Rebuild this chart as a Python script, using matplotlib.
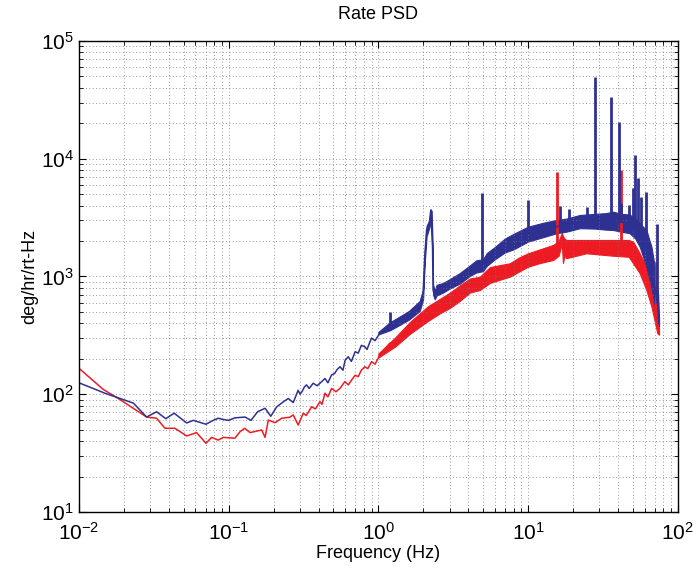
import matplotlib
matplotlib.use("Agg")
import matplotlib.pyplot as plt
import numpy as np
from matplotlib.ticker import LogLocator, LogFormatterMathtext, NullFormatter

plt.rcParams['font.family'] = ['Liberation Sans', 'DejaVu Sans']
plt.rcParams['mathtext.default'] = 'regular'
plt.rcParams['axes.unicode_minus'] = False

# ---- blue trace ----
blue_f = [0.01, 0.0149, 0.0231, 0.0283, 0.033, 0.038, 0.0432, 0.0524, 0.058, 0.0705,
          0.0789, 0.0851, 0.092, 0.1, 0.11, 0.1285, 0.141, 0.156, 0.175, 0.191, 0.209,
          0.231, 0.25, 0.27, 0.291, 0.30, 0.31, 0.32, 0.331, 0.345, 0.367, 0.39, 0.418,
          0.44, 0.46, 0.487, 0.51, 0.53, 0.554, 0.58, 0.60, 0.629, 0.66, 0.70, 0.733,
          0.77, 0.812, 0.84, 0.871, 0.90, 0.95, 1.023, 1.1, 1.19, 1.25, 1.39, 1.5, 1.62,
          1.75, 1.89, 1.99, 2.04, 2.10, 2.19, 2.24, 2.30, 2.32, 2.38, 2.58, 3.0, 4.08,
          4.76, 5.14, 5.55, 7.55, 10.0, 15.5, 22.2, 27.9, 37.0, 47.7, 55.7, 61.7, 66.7,
          70.2, 73.9, 75.0]
blue_v = [125, 102, 84, 64, 71, 62, 69, 57, 60, 55.6,
          60, 62.5, 61, 60, 63, 64, 60, 71, 76, 65, 78,
          86, 92, 85, 108, 100, 106, 115, 120, 112, 124, 118, 128,
          136, 125, 146, 150, 162, 171, 160, 195, 208, 190, 230, 223,
          260, 253, 240, 271, 300, 285, 330, 350, 400, 370, 428, 440, 471,
          500, 573, 719, 1472, 2483, 2832, 3673, 1792, 767, 674, 798, 875, 1135,
          1300, 1336, 1550, 2000, 2280, 2650, 2920, 3000, 2970, 2800, 2250, 1730, 1010,
          820, 550, 400]

blue_band_f = [1.0, 1.2, 1.4, 1.6, 1.89, 1.99, 2.04, 2.10, 2.19, 2.24, 2.27, 2.30,
               2.32, 2.38, 2.45, 2.7, 3.0, 3.5, 4.08, 4.5, 5.0, 5.3, 6.0,
               7.0, 8.0, 10.0, 12.5, 15.5, 18.0, 22.2, 28.0, 33.0, 37.0, 42.0, 47.7,
               52.0, 55.7, 61.7, 66.7, 70.2, 73.9, 75.0]
blue_lo = [322, 350, 390, 430, 510, 640, 1300, 2200, 2600, 3000, 2400, 1500,
           700, 640, 690, 730, 790, 870, 1010, 1080, 1110, 1230, 1400,
           1600, 1700, 1980, 2150, 2330, 2400, 2570, 2550, 2500, 2480, 2400, 2330,
           2100, 1790, 1210, 820, 555, 420, 380]
blue_hi = [338, 410, 460, 510, 620, 780, 1600, 2700, 3000, 3700, 3600, 2000,
           850, 760, 850, 880, 950, 1070, 1240, 1370, 1400, 1580, 1780,
           2100, 2300, 2650, 2850, 3020, 3100, 3330, 3400, 3450, 3550, 3400, 3360,
           3100, 2830, 2480, 1790, 1210, 700, 450]

blue_spike_f = [1.2, 4.89, 10.0, 16.3, 18.7, 24.9, 27.9, 35.7, 40.4, 42.0, 47.3,
                50.3, 52.1, 54.3, 57.1, 61.7, 73.1]
blue_spike_v = [500, 5080, 4460, 3990, 3740, 3920, 49000, 33300, 20700, 4200, 4070,
                5610, 10800, 6800, 4760, 5250, 2790]

# ---- red trace ----
red_f = [0.01, 0.0145, 0.0183, 0.0283, 0.033, 0.0375, 0.0437, 0.0524, 0.061, 0.0705,
         0.0769, 0.0851, 0.092, 0.11, 0.119, 0.128, 0.139, 0.166, 0.175, 0.184, 0.204,
         0.226, 0.256, 0.27, 0.291, 0.315, 0.33, 0.358, 0.38, 0.407, 0.42, 0.44, 0.46,
         0.487, 0.52, 0.554, 0.597, 0.63, 0.662, 0.70, 0.733, 0.77, 0.812, 0.85, 0.90,
         0.95, 1.023, 1.1, 1.19, 1.3, 1.45, 1.62, 2.15, 3.0, 4.08, 5.55, 7.55, 10.0,
         14.7, 15.6, 17.0, 18.0, 24.5, 37.0, 47.0, 50.3, 55.7, 61.7, 66.7, 71.9, 75.0]
red_v = [166, 110, 92, 64, 62.5, 51.4, 51.4, 44.2, 47.2, 38.3,
         43, 40.8, 43, 42.3, 48, 51.4, 47.2, 49.7, 43, 60.4, 57.3,
         62.5, 63.8, 66.7, 54.8, 68.9, 66, 78.3, 75, 86.5, 82, 102, 95,
         112, 105, 112, 128, 120, 132, 145, 141, 160, 171, 165, 189,
         180, 215, 240, 271, 280, 330, 375, 487, 632, 847, 1031, 1130, 1380,
         1600, 1600, 2100, 1700, 1790, 1750, 1700, 1600, 1290, 960, 710, 450, 340]

red_band_f = [1.0, 1.3, 1.62, 2.15, 2.6, 3.0, 3.5, 4.08, 4.76, 5.55, 6.5, 7.55, 8.7,
              10.0, 12.0, 14.7, 16.0, 16.8, 17.1, 17.5, 18.0, 24.5, 37.0, 47.0, 50.3,
              55.7, 61.7, 66.7, 70.0, 73.0, 75.0]
red_lo = [205, 255, 325, 420, 490, 540, 620, 730, 767, 880, 940, 995, 1100,
          1211, 1300, 1380, 1500, 1900, 1300, 1500, 1430, 1574, 1500, 1470, 1294,
          1065, 767, 555, 420, 330, 320]
red_hi = [222, 305, 410, 560, 650, 730, 840, 960, 995, 1200, 1250, 1294, 1450,
          1574, 1700, 1853, 2000, 2350, 2200, 2100, 2042, 2042, 2042, 2042, 1977,
          1574, 1211, 904, 600, 450, 360]

red_spike_f = [15.6, 41.5, 71.9]
red_spike_v = [7760, 8000, 1336]

BLUE = '#2e3192'
RED = '#ed1c24'

fig = plt.figure(figsize=(6.93, 5.73), dpi=100)
ax = fig.add_axes([0.114, 0.1065, 0.864, 0.822])

for f, v, bf, lo, hi, sf, sv, col in [
        (red_f, red_v, red_band_f, red_lo, red_hi, red_spike_f, red_spike_v, RED),
        (blue_f, blue_v, blue_band_f, blue_lo, blue_hi, blue_spike_f, blue_spike_v, BLUE)]:
    ax.plot(f, v, color=col, lw=1.1)
    ax.fill_between(bf, lo, hi, color=col, lw=0.8, edgecolor=col)
    base = np.interp(np.log10(sf), np.log10(f), v)
    ax.vlines(sf, base, sv, color=col, lw=2.0)

ax.set_xscale('log')
ax.set_yscale('log')
ax.set_xlim(1e-2, 1e2)
ax.set_ylim(1e1, 1e5)

for axis in (ax.xaxis, ax.yaxis):
    axis.set_major_locator(LogLocator(base=10, numticks=10))
    axis.set_minor_locator(LogLocator(base=10, subs=np.arange(2, 10), numticks=100))
    axis.set_major_formatter(LogFormatterMathtext())
    axis.set_minor_formatter(NullFormatter())

ax.tick_params(which='both', direction='in', top=True, right=True, labelsize=15)
ax.tick_params(which='major', length=5, width=0.8)
ax.tick_params(which='minor', length=3, width=0.6)
ax.tick_params(axis='x', pad=7)
ax.grid(True, which='both', color='#777777', linestyle=(0, (1, 3)), lw=0.6)
for s in ax.spines.values():
    s.set_linewidth(1.0)

ax.set_title('Rate PSD', fontsize=13, pad=16)
ax.set_xlabel('Frequency (Hz)', fontsize=13, labelpad=1)
ax.set_ylabel('deg/hr/rt-Hz', fontsize=13, labelpad=2)

fig.savefig('out.png', dpi=100)
